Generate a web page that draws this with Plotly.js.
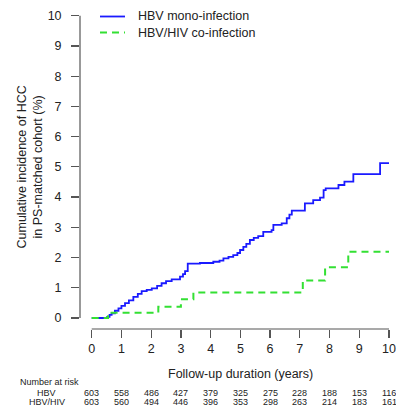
<!DOCTYPE html>
<html>
<head>
<meta charset="utf-8">
<script src="https://cdn.plot.ly/plotly-3.0.1.min.js"></script>
<style>html,body{margin:0;padding:0;background:#fff;}#chart{width:396px;height:409px;}</style>
</head>
<body>
<div id="chart"></div>
<script>
// Step curve for HBV mono-infection: time of jump (years) and cumulative incidence (%) after it
const hbvTime = [0, 0.52, 0.6, 0.67, 0.78, 0.9, 1.0, 1.12, 1.25, 1.4, 1.55, 1.68, 1.85, 2.02, 2.2, 2.35, 2.5, 2.69, 2.97, 3.07, 3.14, 3.23, 3.64, 4.09, 4.3, 4.43, 4.6, 4.76, 4.9, 4.99, 5.1, 5.2, 5.32, 5.45, 5.6, 5.77, 6.05, 6.11, 6.39, 6.56, 6.65, 6.73, 7.17, 7.45, 7.68, 7.8, 7.87, 8.3, 8.5, 8.8, 9.7, 10];
const hbvInc  = [0, 0.04, 0.1, 0.15, 0.24, 0.32, 0.4, 0.49, 0.58, 0.7, 0.8, 0.89, 0.93, 0.98, 1.06, 1.15, 1.22, 1.28, 1.37, 1.45, 1.55, 1.8, 1.82, 1.86, 1.9, 1.97, 2.02, 2.08, 2.15, 2.25, 2.35, 2.45, 2.58, 2.65, 2.71, 2.85, 2.91, 3.08, 3.13, 3.3, 3.42, 3.55, 3.79, 3.9, 3.98, 4.23, 4.29, 4.4, 4.51, 4.76, 5.12, 5.12];

// Step curve for HBV/HIV co-infection
const hivTime = [0, 0.55, 2.24, 3.0, 3.42, 7.1, 7.85, 8.63, 10];
const hivInc  = [0, 0.17, 0.37, 0.62, 0.84, 1.24, 1.68, 2.19, 2.19];

// Axis ticks
const xTicks = [0, 1, 2, 3, 4, 5, 6, 7, 8, 9, 10];
const yTicks = [0, 1, 2, 3, 4, 5, 6, 7, 8, 9, 10];

// Number at risk table
const riskYears = [0, 1, 2, 3, 4, 5, 6, 7, 8, 9, 10];
const riskHBV = [603, 558, 486, 427, 379, 325, 275, 228, 188, 153, 116];
const riskHIV = [603, 560, 494, 446, 396, 353, 298, 263, 214, 183, 161];
const riskGroups = ['HBV', 'HBV/HIV'];

const FONT = 'Liberation Sans, Arial, Helvetica, sans-serif';
const AXC = '#555555';
const TXT = '#222222';

const traces = [
  {x: hbvTime, y: hbvInc, type: 'scatter', mode: 'lines', name: 'HBV mono-infection',
   line: {shape: 'hv', color: '#1a1aff', width: 1.8}},
  {x: hivTime, y: hivInc, type: 'scatter', mode: 'lines', name: 'HBV/HIV co-infection',
   line: {shape: 'hv', color: '#33e033', width: 2, dash: '7px,5px'}}
];

const L = 80, W = 316, T = 3, H = 326;
const px2x = p => (p - L) / W;
const py2y = p => 1 - (p - T) / H;

const annotations = [];
const shapes = [];

// manual legend built from the traces
traces.forEach((tr, i) => {
  const yy = py2y(16.5 + 16 * i);
  shapes.push({type: 'line', xref: 'paper', yref: 'paper', x0: px2x(100), x1: px2x(125), y0: yy, y1: yy,
    line: {color: tr.line.color, width: tr.line.width, dash: tr.line.dash || 'solid'}});
  annotations.push({text: tr.name, xref: 'paper', yref: 'paper', x: px2x(135.5), y: yy,
    xanchor: 'left', yanchor: 'middle', showarrow: false, font: {family: FONT, size: 12.5, color: TXT}});
});

// y axis title (two lines)
annotations.push({text: 'Cumulative incidence of HCC<br>in PS-matched cohort (%)', xref: 'paper', yref: 'paper',
  x: px2x(29.5), y: py2y(167), textangle: -90, xanchor: 'center', yanchor: 'middle', showarrow: false,
  font: {family: FONT, size: 12.5, color: TXT}});

// x axis title
annotations.push({text: 'Follow-up duration (years)', xref: 'x', yref: 'paper', x: 5, y: py2y(373.5),
  xanchor: 'center', yanchor: 'middle', showarrow: false, font: {family: FONT, size: 12.5, color: TXT}});

// number at risk
annotations.push({text: 'Number at risk', xref: 'paper', yref: 'paper', x: px2x(18), y: py2y(382),
  xanchor: 'left', yanchor: 'middle', showarrow: false, font: {family: FONT, size: 9, color: TXT}});
const rowY = [py2y(393), py2y(402)];
[riskHBV, riskHIV].forEach((row, r) => {
  annotations.push({text: riskGroups[r], xref: 'paper', yref: 'paper', x: px2x(46.5), y: rowY[r],
    xanchor: 'center', yanchor: 'middle', showarrow: false, font: {family: FONT, size: 9, color: TXT}});
  row.forEach((v, i) => {
    annotations.push({text: String(v), xref: 'x', yref: 'paper', x: riskYears[i], y: rowY[r],
      xanchor: 'center', yanchor: 'middle', showarrow: false, font: {family: FONT, size: 9, color: TXT}});
  });
});

// axis lines spanning first to last tick
shapes.push({type: 'line', xref: 'paper', yref: 'y', x0: 0, x1: 0, y0: yTicks[0], y1: yTicks[yTicks.length - 1],
  line: {color: AXC, width: 1.2}});
shapes.push({type: 'line', xref: 'x', yref: 'paper', x0: xTicks[0], x1: xTicks[xTicks.length - 1], y0: 0, y1: 0,
  line: {color: AXC, width: 1.2}});

const layout = {
  width: 396, height: 409,
  margin: {l: L, r: 0, t: T, b: 409 - T - H, pad: 0},
  paper_bgcolor: '#ffffff', plot_bgcolor: '#ffffff',
  font: {family: FONT, size: 12.5, color: TXT},
  showlegend: false,
  xaxis: {range: [-0.394, 10.235], tickvals: xTicks, ticktext: xTicks.map(String),
    ticks: 'outside', ticklen: 8, tickwidth: 1.2, tickcolor: AXC, showline: false, showgrid: false, zeroline: false,
    tickfont: {family: FONT, size: 12.5, color: TXT}, ticklabeloverflow: 'allow',
    automargin: false, fixedrange: true},
  yaxis: {range: [-0.364, 10.42], tickvals: yTicks, ticktext: yTicks.map(v => v + '\u00a0\u00a0'),
    ticks: 'outside', ticklen: 8, tickwidth: 1.2, tickcolor: AXC, showline: false, showgrid: false, zeroline: false,
    tickfont: {family: FONT, size: 12.5, color: TXT}, ticklabeloverflow: 'allow',
    automargin: false, fixedrange: true},
  shapes: shapes,
  annotations: annotations
};

Plotly.newPlot('chart', traces, layout, {staticPlot: true, displayModeBar: false});
</script>
</body>
</html>
